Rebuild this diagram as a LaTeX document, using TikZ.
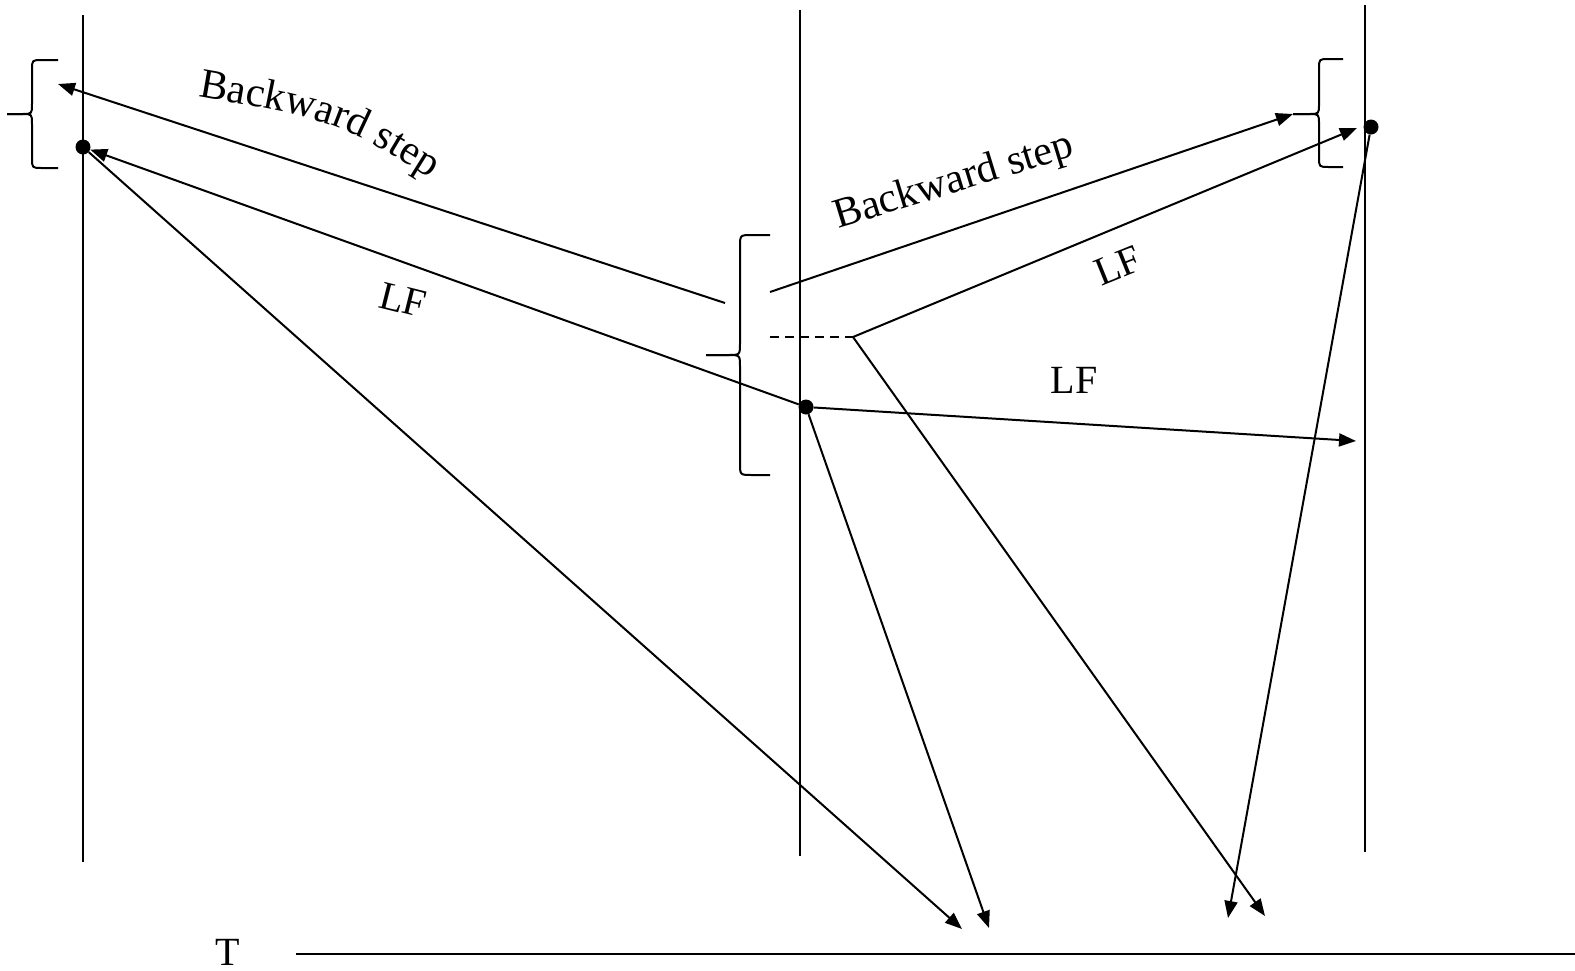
\documentclass[tikz,border=0pt]{standalone}
\usepackage{fontspec}
\setmainfont{Liberation Serif}
\usetikzlibrary{arrows.meta,decorations.text}
\newcommand\lblsize{\fontsize{40}{48}\selectfont}
\newcommand\bssize{\fontsize{42}{50}\selectfont}
\begin{document}
\begin{tikzpicture}[x=1pt,y=-1pt,
  ln/.style={line width=2pt},
  arr/.style={ln,-{Triangle[length=17pt,width=13pt]}},
  dot/.style={circle,fill=black,inner sep=0pt,minimum size=15pt},
  lbl/.style={font=\lblsize,inner sep=0pt},
  bracepath/.style={line width=2pt,line join=round}]
\useasboundingbox (0,0) rectangle (1575,970);

% time lines
\coordinate (L1) at (83,15);   \coordinate (L2) at (83,862);
\coordinate (M1) at (800,10);  \coordinate (M2) at (800,856);
\coordinate (R1) at (1365,5);  \coordinate (R2) at (1365,852);
\draw[ln] (L1) -- (L2);
\draw[ln] (M1) -- (M2);
\draw[ln] (R1) -- (R2);

% bottom axis
\node[lbl, anchor=base] (T) at (228,965) {T};
\coordinate (B1) at (296,954); \coordinate (B2) at (1575,954);
\draw[ln] (B1) -- (B2);

% braces
\draw[bracepath] (58,60) -- (42,60) .. controls (32,60) .. (32,70) -- (32,104)
  .. controls (32,114) .. (22,114) -- (7,114);
\draw[bracepath] (7,114) -- (22,114) .. controls (32,114) .. (32,124) -- (32,158)
  .. controls (32,168) .. (42,168) -- (58,168);

\draw[bracepath] (770,235) -- (752,235) .. controls (740,235) .. (740,247) -- (740,343)
  .. controls (740,355) .. (728,355) -- (706,355);
\draw[bracepath] (706,355) -- (728,355) .. controls (740,355) .. (740,367) -- (740,463)
  .. controls (740,475) .. (752,475) -- (770,475);

\draw[bracepath] (1343,59) -- (1329,59) .. controls (1319,59) .. (1319,69) -- (1319,104)
  .. controls (1319,114) .. (1309,114) -- (1293,114);
\draw[bracepath] (1293,114) -- (1309,114) .. controls (1319,114) .. (1319,124) -- (1319,157)
  .. controls (1319,167) .. (1329,167) -- (1343,167);

% dots
\node[dot] (ld) at (83,147) {};
\node[dot] (md) at (806,407) {};
\node[dot] (rd) at (1371,127) {};

% named ends
\coordinate (bsL) at (58,84);
\coordinate (bsLs) at (725,303);
\coordinate (bsRs) at (770,292);
\coordinate (bsR) at (1293,114);
\coordinate (D1) at (770,337);
\coordinate (J) at (853,337);
\coordinate (lfR) at (1357,128);
\coordinate (lfM) at (1356,441);
\coordinate (t1) at (962,929);
\coordinate (t2) at (989,928);
\coordinate (t3) at (1228,918);
\coordinate (t4) at (1265,916);

% backward steps
\draw[arr] (bsLs) -- (bsL);
\draw[arr] (bsRs) -- (bsR);

% LF
\draw[arr] (md) -- (ld);
\draw[ln, dash pattern=on 9pt off 6pt] (D1) -- (J);
\draw[arr] (J) -- (lfR);
\draw[arr] (md) -- (lfM);

% down arrows
\draw[arr] (ld) -- (t1);
\draw[arr] (md) -- (t2);
\draw[arr] (rd) -- (t3);
\draw[arr] (J) -- (t4);

% labels
\path[decorate, decoration={text along path, text align=center,
  text={|\bssize|Backward step}}] (190,95) .. controls (336,120) .. (437,183);
\node[font=\bssize, inner sep=0pt, rotate=17, anchor=base] (bs2) at (957,192) {Backward step};
\node[lbl, rotate=-14] (lf1) at (403,300) {LF};
\node[lbl, rotate=22] (lf2) at (1118,266) {LF};
\node[lbl] (lf3) at (1074,380) {LF};
\end{tikzpicture}
\end{document}
